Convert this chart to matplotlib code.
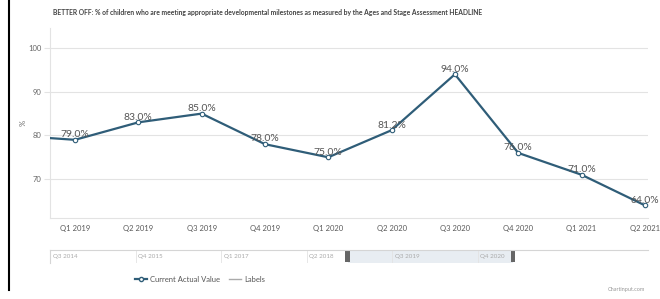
import matplotlib
matplotlib.use("Agg")
import matplotlib.pyplot as plt
from matplotlib import font_manager as fm
from matplotlib.patches import Rectangle
from matplotlib.lines import Line2D

# fonts: try a narrow face first
def have(name):
    try:
        fm.findfont(name, fallback_to_default=False)
        return True
    except Exception:
        return False

FAM = [f for f in ["Liberation Sans Narrow", "Lato", "DejaVu Sans"] if have(f)]
plt.rcParams['font.family'] = FAM

# data
quarters = ["Q4 2018", "Q1 2019", "Q2 2019", "Q3 2019", "Q4 2019", "Q1 2020",
            "Q2 2020", "Q3 2020", "Q4 2020", "Q1 2021", "Q2 2021"]
values = [80.0, 79.0, 83.0, 85.0, 78.0, 75.0, 81.2, 94.0, 76.0, 71.0, 64.0]
value_labels = ["", "79.0%", "83.0%", "85.0%", "78.0%", "75.0%", "81.2%",
                "94.0%", "76.0%", "71.0%", "64.0%"]
y_ticks = [70, 80, 90, 100]
nav_labels = ["Q3 2014", "Q4 2015", "Q1 2017", "Q2 2018", "Q3 2019", "Q4 2020"]
title = ("BETTER OFF: % of children who are meeting appropriate developmental "
         "milestones as measured by the Ages and Stage Assessment HEADLINE")

LINE = "#2f5d78"
GRID = "#e3e3e3"
TXT = "#666666"

W, H = 660, 299
fig = plt.figure(figsize=(W / 100, H / 100), dpi=100)

def px_axes(x0, y0, x1, y1):
    # pixel box (top-left origin) -> figure axes
    return fig.add_axes([x0 / W, 1 - y1 / H, (x1 - x0) / W, (y1 - y0) / H])

# main plot
ax = px_axes(50, 28, 648, 218)
xs = list(range(-1, len(quarters) - 1))
ax.plot(xs, values, color=LINE, lw=1.6, marker="o", ms=3.2,
        mfc="white", mec=LINE, mew=0.8, zorder=3)
for x, v, lab in zip(xs, values, value_labels):
    if lab:
        ax.annotate(lab, (x, v), xytext=(0, 0.5), textcoords="offset points",
                    ha="center", va="bottom", fontsize=7.5, color="#555555",
                    zorder=4)
ax.set_xlim(-0.395, 9.05)
ax.set_ylim(61.1, 104.6)
ax.set_yticks(y_ticks)
ax.set_yticklabels([str(t) for t in y_ticks])
ax.set_xticks(range(0, len(quarters) - 1))
ax.set_xticklabels(quarters[1:])
ax.grid(axis="y", color=GRID, lw=0.8)
ax.set_axisbelow(True)
ax.tick_params(axis="y", length=4, color=GRID, labelsize=5.5, labelcolor=TXT, pad=2)
ax.tick_params(axis="x", length=0, labelsize=5.5, labelcolor="#5a5a5a", pad=5)
for s in ["top", "right"]:
    ax.spines[s].set_visible(False)
for s in ["left", "bottom"]:
    ax.spines[s].set_color(GRID)
    ax.spines[s].set_linewidth(0.8)
ax.set_ylabel("%", fontsize=5.5, color=TXT, labelpad=1)

fig.text(53 / W, 1 - 13 / H, title, fontsize=4.9, fontweight="bold",
         color="#444444", ha="left", va="center")

# navigator strip
nav = px_axes(50, 250, 648, 263)
step = 17.1
nav.set_xlim(0, (648 - 50) / step)
nav.set_ylim(0, 1)
nav.add_patch(Rectangle((17.4, 0), 9.65, 1, color="#e8edf2", lw=0))
for hx in (17.4, 27.05):
    nav.add_patch(Rectangle((hx - 0.12, 0.1), 0.24, 0.8, color="#666666", lw=0))
for i, lab in enumerate(nav_labels):
    nav.axvline(i * 5, color=GRID, lw=0.6)
    nav.text(i * 5 + 0.15, 0.5, lab, fontsize=4.5, color="#aaaaaa", va="center")
nav.set_xticks([])
nav.set_yticks([])
for s in ["right", "bottom"]:
    nav.spines[s].set_visible(False)
for s in ["top", "left"]:
    nav.spines[s].set_color("#d5d5d5")
    nav.spines[s].set_linewidth(0.8)

# legend
handles = [Line2D([], [], color=LINE, lw=1.6, marker="o", ms=3, mfc="white", mec=LINE),
           Line2D([], [], color="#aaaaaa", lw=1)]
fig.legend(handles, ["Current Actual Value", "Labels"], loc="center",
           bbox_to_anchor=(200 / W, 1 - 279 / H), ncol=2, frameon=False,
           fontsize=5.5, handlelength=1.6, handletextpad=0.4, columnspacing=1.2,
           labelcolor="#555555")

fig.text(645 / W, 1 - 290 / H, "Chartinput.com", fontsize=4, color="#999999",
         ha="right", va="center")

# black left border
fig.add_artist(Line2D([8.5 / W, 8.5 / W], [1 - 290 / H, 1], color="black",
                      lw=1.5, transform=fig.transFigure))

fig.savefig("out.png", dpi=100, facecolor="white")
